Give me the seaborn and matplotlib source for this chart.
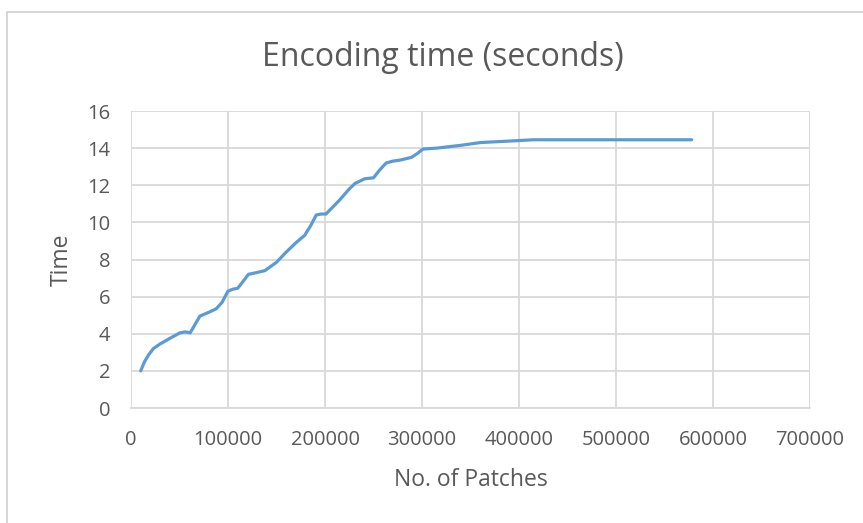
import matplotlib
matplotlib.use("Agg")
import matplotlib.pyplot as plt
import seaborn as sns
import pandas as pd
from matplotlib.patches import Rectangle

# Number of patches encoded and the corresponding encoding time
patches = [10000, 14000, 18000, 23000, 30000, 40000, 50500, 56000, 61000, 66000,
           71000, 80000, 88000, 94000, 100000, 105000, 110000, 116000, 121000, 130000,
           138000, 150000, 160000, 170000, 179000, 185000, 191000, 196000, 201000,
           215000, 225000, 231000, 241000, 250000, 256000, 263000, 270000, 277000,
           289000, 295000, 301000, 315000, 340000, 360000, 390000, 415000,
           450000, 500000, 578000]
seconds = [2.0, 2.5, 2.85, 3.2, 3.45, 3.75, 4.05, 4.1, 4.05, 4.5,
           4.95, 5.15, 5.35, 5.7, 6.3, 6.4, 6.45, 6.85, 7.2, 7.3,
           7.4, 7.85, 8.4, 8.9, 9.3, 9.8, 10.4, 10.45, 10.45,
           11.2, 11.8, 12.1, 12.35, 12.4, 12.8, 13.2, 13.3, 13.35,
           13.5, 13.7, 13.95, 14.0, 14.15, 14.3, 14.38, 14.45,
           14.45, 14.45, 14.45]

x_ticks = [0, 100000, 200000, 300000, 400000, 500000, 600000, 700000]
y_ticks = [0, 2, 4, 6, 8, 10, 12, 14, 16]

df = pd.DataFrame({"patches": patches, "seconds": seconds})

sns.set_style("white")
plt.rcParams["font.family"] = ["Open Sans", "DejaVu Sans"]

text_col = "#595959"
grid_col = "#d9d9d9"

fig = plt.figure(figsize=(8.63, 5.23), dpi=100)
fig.patch.set_facecolor("white")

# chart area frame
fig.patches.append(Rectangle((7 / 863, -0.05), 1.0, 1 - 12 / 523 + 0.05,
                             transform=fig.transFigure, fill=False,
                             edgecolor="#d0d0d0", linewidth=1.2))

ax = fig.add_axes([131 / 863, (523 - 408) / 523, 679 / 863, 297 / 523])
sns.lineplot(data=df, x="patches", y="seconds", ax=ax, sort=False,
             color="#5b9bd5", linewidth=2.3, solid_joinstyle="round",
             solid_capstyle="round")

ax.set_xlim(0, 700000)
ax.set_ylim(0, 16)
ax.set_xticks(x_ticks)
ax.set_yticks(y_ticks)
ax.set_xticklabels([str(v) for v in x_ticks])
ax.set_yticklabels([str(v) for v in y_ticks])
ax.grid(True, color=grid_col, linewidth=1.3)
ax.set_axisbelow(True)
for side in ("top", "right", "left"):
    ax.spines[side].set_visible(False)
ax.spines["bottom"].set_color(grid_col)
ax.spines["bottom"].set_linewidth(1.3)
ax.tick_params(axis="both", length=0, labelsize=14.5, colors=text_col)
ax.tick_params(axis="x", pad=16)
ax.tick_params(axis="y", pad=15)

ax.set_xlabel("No. of Patches", fontsize=16.5, color=text_col, va="center")
ax.set_ylabel("Time", fontsize=16.5, color=text_col, va="center")
ax.xaxis.set_label_coords(0.5007, -0.2424)
ax.yaxis.set_label_coords(-0.1016, 0.498)
fig.text(443 / 863, 1 - 57 / 523, "Encoding time (seconds)", ha="center",
         va="center", fontsize=23, color=text_col)

fig.savefig("out.png", dpi=100)
